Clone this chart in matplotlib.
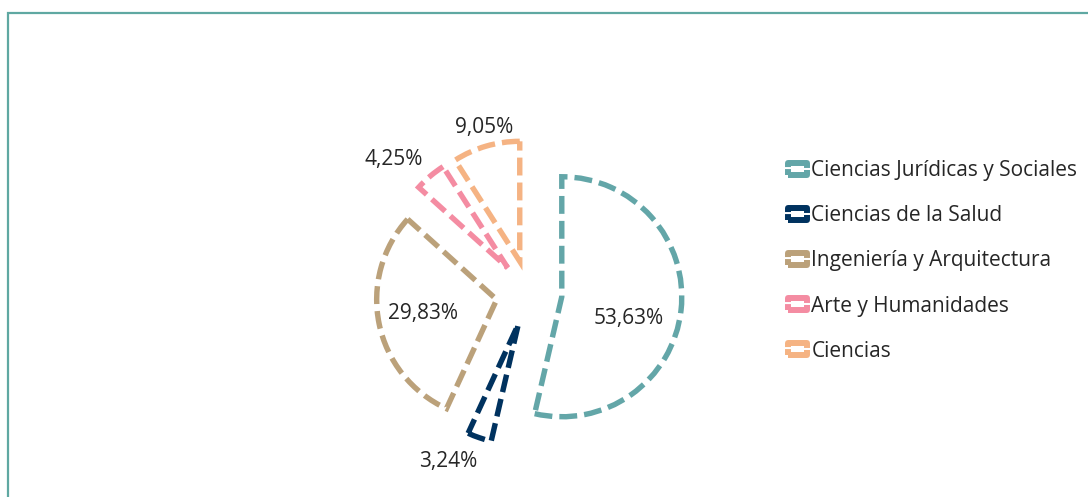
import numpy as np
import matplotlib
matplotlib.use("Agg")
import matplotlib.pyplot as plt
from matplotlib.patches import Rectangle

categories = ["Ciencias Jurídicas y Sociales", "Ciencias de la Salud",
              "Ingeniería y Arquitectura", "Arte y Humanidades", "Ciencias"]
values = [53.63, 3.24, 29.83, 4.25, 9.05]
labels = ["53,63%", "3,24%", "29,83%", "4,25%", "9,05%"]

colors = ["#63A6A8", "#00325F", "#BBA17A", "#F48CA2", "#F5B383"]
explode_frac = 0.275
label_dist = [0.86, 1.56, 0.90, 1.58, 1.43]
label_rot = [-7.5, -6.7, -0.4, 5.2, -1.0]

W, H = 1088, 497
fig = plt.figure(figsize=(W / 100, H / 100), dpi=100)
ax = fig.add_axes([0, 0, 1, 1])

R = 120
cx, cy = 529, H - 293
font = "Open Sans"
fs = 15
txt_color = "#262626"

wedges, _ = ax.pie(values, colors=colors, startangle=90, counterclock=False,
                   radius=R, center=(cx, cy),
                   explode=[explode_frac * R] * len(values), frame=True)
ax.set_xlim(0, W)
ax.set_ylim(0, H)
ax.axis("off")
for w, c in zip(wedges, colors):
    w.set_facecolor("none")
    w.set_edgecolor(c)
    w.set_linewidth(3.9)
    w.set_linestyle((0, (3.3, 1.3)))
    w.set_joinstyle("miter")

for w, lab, d, rot in zip(wedges, labels, label_dist, label_rot):
    m0 = np.deg2rad((w.theta1 + w.theta2) / 2)
    mid = m0 + np.deg2rad(rot)
    ax.text(cx + d * R * np.cos(mid), cy + d * R * np.sin(mid),
            lab, ha="center", va="center", fontsize=fs, family=font, color=txt_color)

leg = ax.legend(wedges, categories, loc="center left",
                bbox_to_anchor=(788 / W, 1 - 261 / H), frameon=False,
                prop={"family": font, "size": fs}, labelspacing=1.16,
                handlelength=0.92, handleheight=0.5, handletextpad=0.2,
                borderaxespad=0, borderpad=0)
hlw = 4.3
for h in leg.legend_handles:
    h.set_linewidth(hlw)
    h.set_linestyle((0.67, (4.69, 0.34)))
    h.set_joinstyle("round")
for t in leg.get_texts():
    t.set_color(txt_color)

border = Rectangle((7.5 / W, -0.1), 1.2, 1 - 12.5 / H + 0.1, transform=fig.transFigure,
                   fill=False, edgecolor="#5FA8A2", linewidth=1.6, clip_on=False)
fig.patches.append(border)

fig.savefig("out.png", dpi=100, facecolor="white")
